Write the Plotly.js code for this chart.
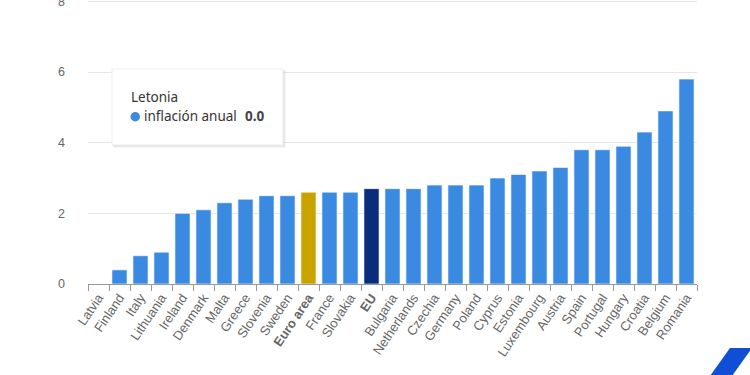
<!DOCTYPE html>
<html><head><meta charset="utf-8">
<script src="https://cdn.plot.ly/plotly-3.0.1.min.js"></script>
<style>html,body{margin:0;padding:0;background:#fff}#c{width:750px;height:375px}</style>
</head><body><div id="c"></div>
<script>
const categories = ["Latvia","Finland","Italy","Lithuania","Ireland","Denmark","Malta","Greece","Slovenia","Sweden","Euro area","France","Slovakia","EU","Bulgaria","Netherlands","Czechia","Germany","Poland","Cyprus","Estonia","Luxembourg","Austria","Spain","Portugal","Hungary","Croatia","Belgium","Romania"];
const inflation = [0.0,0.4,0.8,0.9,2.0,2.1,2.3,2.4,2.5,2.5,2.6,2.6,2.6,2.7,2.7,2.7,2.8,2.8,2.8,3.0,3.1,3.2,3.3,3.8,3.8,3.9,4.3,4.9,5.8];
const yTicks = [0,2,4,6,8];
const tooltipTitle = "Letonia";
const tooltipSeries = "inflación anual";
const tooltipValue = "0.0";

const BLUE = "#3a8ae2", GOLD = "#c9a300", NAVY = "#0b2b7c";
const colors = categories.map(c => c === "Euro area" ? GOLD : (c === "EU" ? NAVY : BLUE));
const ticktext = categories.map(c => (c === "Euro area" || c === "EU") ? "<b>" + c + "</b>" : c);

// plot-area geometry helpers (pixels -> paper)
const W = 750, H = 375, ML = 88, MR = 53, MT = 0, MB = 91;
const PW = W - ML - MR, PH = H - MT - MB;
const px = x => (x - ML) / PW;
const py = y => (H - MB - y) / PH;

const shapes = [];
// tooltip shadow
for (let i = 3; i >= 1; i--) {
  shapes.push({type:"rect", xref:"paper", yref:"paper", x0:px(112 + i*0.5), x1:px(283 + i), y0:py(145 + i), y1:py(69 + i*0.5),
    fillcolor:"rgba(0,0,0,0.04)", line:{width:0}, layer:"above"});
}
shapes.push({type:"rect", xref:"paper", yref:"paper", x0:px(112), x1:px(283), y0:py(145), y1:py(69),
  fillcolor:"#ffffff", line:{color:"#eeeeee", width:1}, layer:"above"});
// tooltip bullet
shapes.push({type:"circle", xref:"paper", yref:"paper", x0:px(130.5), x1:px(140), y0:py(121.5), y1:py(112),
  fillcolor:BLUE, line:{width:0}, layer:"above"});
// corner logo
shapes.push({type:"path", xref:"paper", yref:"paper",
  path:`M ${px(710)} ${py(376)} L ${px(730)} ${py(348)} L ${px(752)} ${py(348)} L ${px(732)} ${py(376)} Z`,
  fillcolor:"#0f4fd6", line:{width:0}, layer:"above"});

const TF = "Noto Sans, Liberation Sans, sans-serif";
const annotations = [
  {xref:"paper", yref:"paper", x:px(129), y:py(97), xanchor:"left", yanchor:"middle", showarrow:false,
   text:tooltipTitle, font:{family:TF, size:13.5, color:"#333"}},
  {xref:"paper", yref:"paper", x:px(142), y:py(116), xanchor:"left", yanchor:"middle", showarrow:false,
   text:tooltipSeries, font:{family:TF, size:13.5, color:"#333"}},
  {xref:"paper", yref:"paper", x:px(243), y:py(116), xanchor:"left", yanchor:"middle", showarrow:false,
   text:"<b>" + tooltipValue + "</b>", font:{family:TF, size:13.5, color:"#444"}}
];

const data = [{
  type:"bar", x:categories, y:inflation,
  marker:{color:colors, line:{color:"rgba(255,255,255,0.6)", width:1}},
  hoverinfo:"skip"
}];

const layout = {
  width:W, height:H, margin:{l:ML, r:MR, t:MT, b:MB, pad:0},
  paper_bgcolor:"#fff", plot_bgcolor:"#fff",
  bargap:0.28, showlegend:false,
  font:{family:"Liberation Sans, Arial, sans-serif", color:"#666"},
  xaxis:{type:"category", tickmode:"array", tickvals:categories, ticktext:ticktext, tickangle:-56,
    tickfont:{size:13, color:"#666"}, showline:true, linecolor:"#999", linewidth:1,
    ticks:"outside", tickson:"boundaries", ticklen:6, tickcolor:"#999", showgrid:false, zeroline:false,
    range:[-0.5, categories.length - 0.5]},
  yaxis:{range:[0,8.04], tickvals:yTicks, ticktext:yTicks.map(String), tickfont:{size:12.5, color:"#666"},
    gridcolor:"#e6e6e6", gridwidth:1, zeroline:false, showline:false, ticklabelstandoff:22,
    ticklabeloverflow:"allow"},
  shapes:shapes, annotations:annotations
};
Plotly.newPlot("c", data, layout, {displayModeBar:false, staticPlot:true});
</script></body></html>
